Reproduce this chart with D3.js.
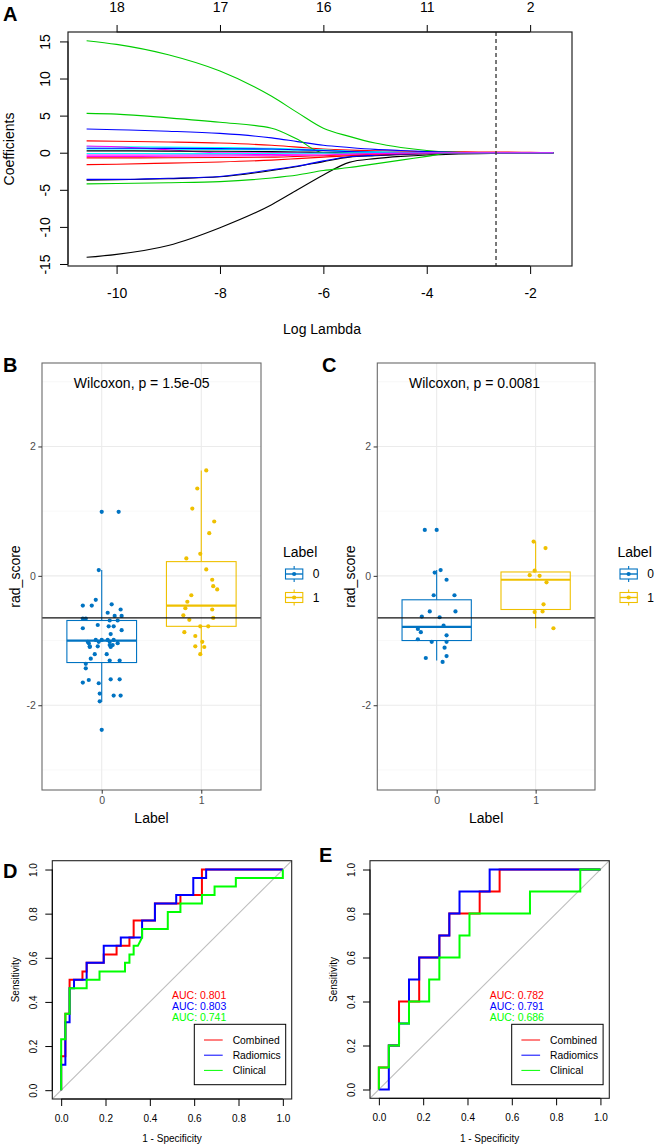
<!DOCTYPE html>
<html><head><meta charset="utf-8">
<script src="https://cdn.jsdelivr.net/npm/d3@7"></script>
<style>body{margin:0;background:#fff} svg text{font-family:"Liberation Sans",Arial,Helvetica,sans-serif}</style>
</head><body><svg id="c" width="656" height="1146"></svg>
<script>
// ===================== DATA =====================
// Panel A: LASSO coefficient paths
const lassoLogLambda = [-10.58, -10, -9, -8, -7, -6.5, -6, -5.5, -5, -4.5, -4, -3.5, -3, -2.5, -2, -1.55];
const lassoCoefs = [
  [-14.1,-13.7,-12.5,-10.1,-7.0,-5.0,-3.0,-1.3,-0.8,-0.5,-0.3,-0.2,-0.12,-0.07,-0.03,0],
  [1.6,1.55,1.45,1.3,1.0,0.75,0.5,0.35,0.25,0.2,0.15,0.12,0.1,0.08,0.05,0],
  [15.1,14.6,13.2,11.0,7.6,5.4,3.3,2.2,1.3,0.7,0.3,0.08,0,0,0,0],
  [3.2,3.1,2.9,2.6,2.0,1.5,1.0,0.7,0.45,0.3,0.15,0.05,0,0,0,0],
  [0.8,0.8,0.75,0.7,0.6,0.5,0.4,0.2,0.1,0.03,0,0,0,0,0,0],
  [-0.3,-0.3,-0.3,-0.28,-0.25,-0.2,-0.15,-0.1,-0.05,0,0,0,0,0,0,0],
  [-3.7,-3.65,-3.5,-3.25,-2.4,-1.85,-1.2,-0.6,-0.4,-0.25,-0.12,-0.05,0,0,0,0],
  [-1.6,-1.55,-1.4,-1.25,-1.0,-0.8,-0.6,-0.4,-0.3,-0.2,-0.1,-0.04,0,0,0,0],
  [5.3,5.2,4.7,4.1,3.3,1.8,0,0,0,0,0,0,0,0,0,0],
  [-3.6,-3.6,-3.45,-3.2,-2.3,-1.8,-1.1,-0.55,-0.35,-0.2,-0.1,-0.04,0,0,0,0],
  [0.5,0.5,0.48,0.45,0.4,0.35,0.3,0.2,0.12,0.06,0.02,0,0,0,0,0],
  [0.9,0.8,0.4,0,0,0,0,0,0,0,0,0,0,0,0,0],
  [0.25,0.25,0.22,0.2,0.15,0.1,0.06,0.02,0,0,0,0,0,0,0,0],
  [-0.7,-0.7,-0.68,-0.65,-0.6,-0.5,-0.4,-0.3,-0.2,-0.12,-0.06,-0.02,0,0,0,0],
  [-4.2,-4.15,-4.05,-3.9,-3.4,-3.0,-2.4,-2.0,-1.5,-1.0,-0.5,0,0,0,0,0],
  [0.6,0.6,0.58,0.55,0.5,0.4,0.3,0.15,0.05,0,0,0,0,0,0,0],
  [-0.1,-0.1,-0.12,-0.12,-0.1,-0.08,-0.05,-0.02,0,0,0,0,0,0,0,0],
  [-0.5,-0.5,-0.48,-0.45,-0.4,-0.35,-0.3,-0.2,-0.12,-0.06,-0.02,0,0,0,0,0]
];
const lassoXTicks = [-10, -8, -6, -4, -2];
const lassoTopLabels = ["18", "17", "16", "11", "2"];
const lassoYTicks = [-15, -10, -5, 0, 5, 10, 15];
const lassoLambdaMin = -2.66;

// Panels B / C: rad_score by Label
const groupLabels = ["0", "1"];
const bVal0 = [0.99,0.99,0.09,-0.37,-0.46,-0.46,-0.44,-0.52,-0.57,-0.62,-0.62,-0.66,-0.66,-0.69,-0.69,-0.76,-0.78,-0.78,-0.81,-0.84,-0.90,-0.99,-0.99,-0.99,-0.99,-1.04,-1.04,-1.09,-1.09,-1.02,-1.02,-1.02,-1.07,-1.07,-1.10,-1.10,-1.21,-1.21,-1.28,-1.31,-1.31,-1.36,-1.43,-1.61,-1.60,-1.60,-1.65,-1.66,-1.82,-1.85,-1.85,-1.94,-2.38];
const bJit0 = [0.00,0.17,-0.03,-0.06,-0.19,-0.10,0.10,0.19,0.06,0.13,0.20,-0.19,-0.16,0.08,0.16,-0.04,0.07,0.12,-0.19,0.20,0.09,-0.06,0.00,0.06,0.12,-0.13,0.16,-0.12,-0.04,-0.14,-0.03,0.08,0.08,0.11,-0.12,0.09,-0.07,0.05,-0.11,0.08,0.18,-0.16,-0.16,-0.13,0.09,0.18,-0.19,-0.03,-0.02,0.12,0.19,-0.02,0.00];
const bVal1 = [1.63,1.35,1.04,0.84,0.66,0.34,0.27,0.10,-0.06,-0.16,-0.21,-0.30,-0.40,-0.50,-0.52,-0.61,-0.65,-0.68,-0.78,-0.78,-0.87,-0.93,-1.02,-1.09,-1.10,-1.21];
const bJit1 = [0.05,-0.04,-0.09,0.13,0.08,-0.01,-0.15,0.05,0.11,0.12,0.16,-0.10,-0.14,-0.16,0.11,-0.18,0.12,-0.12,-0.01,0.07,-0.17,-0.06,0.01,-0.06,0.03,-0.01];
// box stats: [lower whisker, Q1, median, Q3, upper whisker]
const bBox0 = [-1.95, -1.34, -1.00, -0.69, 0.09];
const bBox1 = [-1.21, -0.78, -0.46, 0.22, 1.63];
const bPText = "Wilcoxon, p = 1.5e-05";

const cVal0 = [0.71,0.71,0.05,0.09,-0.06,-0.30,-0.30,-0.55,-0.55,-0.63,-0.64,-0.77,-0.82,-0.87,-0.92,-0.98,-1.02,-1.02,-1.11,-1.27,-1.24,-1.33];
const cJit0 = [-0.12,0.00,-0.02,0.04,0.10,-0.03,0.18,-0.07,0.19,-0.15,0.03,0.07,-0.19,-0.16,0.10,-0.19,-0.05,0.10,0.08,-0.11,0.10,0.06];
const cVal1 = [0.53,0.43,0.08,0.01,0.00,-0.10,-0.44,-0.56,-0.55,-0.81];
const cJit1 = [-0.02,0.10,-0.01,-0.06,0.04,0.11,0.08,-0.01,0.07,0.18];
const cBox0 = [-1.31, -1.00, -0.79, -0.37, 0.09];
const cBox1 = [-0.81, -0.52, -0.06, 0.06, 0.53];
const cPText = "Wilcoxon, p = 0.0081";
const cutoffScore = -0.65;
const scoreTicks = [-2, 0, 2];

// Panels D / E: ROC curves, [1 - specificity, sensitivity]
const rocNames = ["Combined", "Radiomics", "Clinical"];
const dCombined = [[0,0],[0,0.154],[0.019,0.154],[0.019,0.346],[0.038,0.346],[0.038,0.5],[0.096,0.5],[0.096,0.538],[0.115,0.538],[0.115,0.577],[0.192,0.577],[0.192,0.615],[0.25,0.615],[0.25,0.654],[0.308,0.654],[0.308,0.692],[0.327,0.692],[0.327,0.769],[0.423,0.769],[0.423,0.846],[0.538,0.846],[0.538,0.885],[0.635,0.885],[0.635,1],[1,1]];
const dRadiomics = [[0,0],[0,0.115],[0.019,0.115],[0.019,0.308],[0.038,0.308],[0.038,0.462],[0.058,0.462],[0.058,0.5],[0.115,0.5],[0.115,0.577],[0.192,0.577],[0.192,0.654],[0.269,0.654],[0.269,0.692],[0.365,0.692],[0.365,0.769],[0.423,0.769],[0.423,0.846],[0.519,0.846],[0.519,0.885],[0.596,0.885],[0.596,0.962],[0.654,0.962],[0.654,1],[1,1]];
const dClinical = [[0,0],[0,0.231],[0.019,0.231],[0.019,0.346],[0.038,0.346],[0.038,0.462],[0.115,0.462],[0.115,0.5],[0.173,0.5],[0.173,0.538],[0.288,0.538],[0.288,0.577],[0.308,0.577],[0.308,0.615],[0.327,0.615],[0.327,0.654],[0.346,0.654],[0.365,0.692],[0.365,0.731],[0.481,0.731],[0.481,0.808],[0.538,0.808],[0.538,0.846],[0.635,0.846],[0.635,0.885],[0.692,0.885],[0.692,0.923],[0.788,0.923],[0.788,0.962],[1,0.962],[1,1]];
const dAUC = ["0.801", "0.803", "0.741"];
const eCombined = [[0,0],[0,0.1],[0.045,0.1],[0.045,0.2],[0.091,0.2],[0.091,0.4],[0.182,0.4],[0.182,0.6],[0.273,0.6],[0.273,0.7],[0.318,0.7],[0.318,0.8],[0.455,0.8],[0.455,0.9],[0.545,0.9],[0.545,1],[1,1]];
const eRadiomics = [[0,0],[0.045,0],[0.045,0.2],[0.091,0.2],[0.091,0.3],[0.136,0.3],[0.136,0.5],[0.182,0.5],[0.182,0.6],[0.273,0.6],[0.273,0.7],[0.318,0.7],[0.318,0.8],[0.364,0.8],[0.364,0.9],[0.5,0.9],[0.5,1],[1,1]];
const eClinical = [[0,0],[0,0.1],[0.045,0.1],[0.045,0.2],[0.091,0.2],[0.091,0.3],[0.136,0.3],[0.136,0.4],[0.227,0.4],[0.227,0.5],[0.273,0.5],[0.273,0.6],[0.364,0.6],[0.364,0.7],[0.409,0.7],[0.409,0.8],[0.682,0.8],[0.682,0.9],[0.909,0.9],[0.909,1],[1,1]];
const eAUC = ["0.782", "0.791", "0.686"];
const rocTicks = [0, 0.2, 0.4, 0.6, 0.8, 1.0];

// ===================== STYLE =====================
const rPalette = ["#000000", "#FF0000", "#00CD00", "#0000FF", "#00FFFF", "#FF00FF"];
const jco = ["#0073C2", "#EFC000"];
const rocColors = ["#FF0000", "#0000FF", "#00FF00"];
const FONT = '"Liberation Sans",Arial,Helvetica,sans-serif';

const svg = d3.select("#c");
svg.append("rect").attr("width", 656).attr("height", 1146).attr("fill", "#fff");
const defs = svg.append("defs");

function styleAxis(g, fs, color) {
  g.attr("font-family", FONT).attr("font-size", fs);
  g.selectAll("text").attr("fill", color || "#000");
  g.selectAll("line").attr("stroke", color === "#4D4D4D" ? "#333" : "#000");
}
function panelLabel(t, x, y) {
  svg.append("text").attr("x", x).attr("y", y).attr("font-size", 20).attr("font-weight", "bold").attr("fill", "#000").text(t);
}

// ===================== PANEL A =====================
(function () {
  const L = 68, R = 572, T = 32, B = 266;
  const x = d3.scaleLinear().domain([-10.94, -1.19]).range([L, R]);
  const y = d3.scaleLinear().domain([-15.27, 16.27]).range([B, T]);
  const g = svg.append("g");
  defs.append("clipPath").attr("id", "clipA").append("rect").attr("x", L).attr("y", T).attr("width", R - L).attr("height", B - T);

  const line = d3.line().x((d, i) => x(lassoLogLambda[i])).y(d => y(d)).curve(d3.curveMonotoneX);
  const lg = g.append("g").attr("clip-path", "url(#clipA)");
  lassoCoefs.forEach((c, i) => {
    lg.append("path").attr("d", line(c)).attr("fill", "none").attr("stroke", rPalette[i % 6]).attr("stroke-width", 1.1);
  });
  g.append("line").attr("x1", x(lassoLambdaMin)).attr("x2", x(lassoLambdaMin)).attr("y1", T).attr("y2", B)
    .attr("stroke", "#333").attr("stroke-width", 1.3).attr("stroke-dasharray", "4,3");

  const ax = g.append("g").attr("transform", `translate(0,${B})`)
    .call(d3.axisBottom(x).tickValues(lassoXTicks).tickSize(8).tickSizeOuter(0).tickPadding(14).tickFormat(d => String(d)));
  styleAxis(ax, 14);
  const at = g.append("g").attr("transform", `translate(0,${T})`)
    .call(d3.axisTop(x).tickValues(lassoXTicks).tickSize(7).tickSizeOuter(0).tickPadding(13).tickFormat((d, i) => lassoTopLabels[i]));
  styleAxis(at, 14);
  const ay = g.append("g").attr("transform", `translate(${L},0)`)
    .call(d3.axisLeft(y).tickValues(lassoYTicks).tickSize(8).tickSizeOuter(0).tickFormat(d => String(d)));
  styleAxis(ay, 14);
  ay.selectAll(".tick text").attr("x", null).attr("dy", null).attr("text-anchor", "middle").attr("transform", "translate(-18,0) rotate(-90)");
  ay.select(".domain").attr("d", `M0,${y(-15)}V${y(15)}`);
  ax.select(".domain").attr("d", `M${x(-10)},0H${x(-2)}`);
  at.select(".domain").attr("d", `M${x(-10)},0H${x(-2)}`);
  g.append("rect").attr("x", L).attr("y", T).attr("width", R - L).attr("height", B - T).attr("fill", "none").attr("stroke", "#222").attr("stroke-width", 1.2);

  g.append("text").attr("x", (L + R) / 2 + 2).attr("y", 334).attr("text-anchor", "middle").attr("font-size", 14).text("Log Lambda");
  g.append("text").attr("transform", `translate(14,${(T + B) / 2}) rotate(-90)`).attr("text-anchor", "middle").attr("font-size", 14).text("Coefficients");
  panelLabel("A", 3, 21);
})();

// ===================== PANELS B / C =====================
function boxPanel(o) {
  const T = 363, B = 790;
  const x = d3.scaleLinear().domain([-0.6, 1.6]).range([o.L, o.R]);
  const y = d3.scaleLinear().domain([-3.31, 3.29]).range([B, T]);
  const g = svg.append("g");
  // grid
  [-3, -1, 1, 3].forEach(v => g.append("line").attr("x1", o.L).attr("x2", o.R).attr("y1", y(v)).attr("y2", y(v)).attr("stroke", "#F4F4F4").attr("stroke-width", 0.6));
  scoreTicks.forEach(v => g.append("line").attr("x1", o.L).attr("x2", o.R).attr("y1", y(v)).attr("y2", y(v)).attr("stroke", "#EBEBEB").attr("stroke-width", 1.1));
  [0, 1].forEach(v => g.append("line").attr("x1", x(v)).attr("x2", x(v)).attr("y1", T).attr("y2", B).attr("stroke", "#EBEBEB").attr("stroke-width", 1.1));

  const groups = [[o.v0, o.j0, o.b0], [o.v1, o.j1, o.b1]];
  groups.forEach(([vals, jit, bx], gi) => {
    const col = jco[gi], cx = x(gi);
    g.append("line").attr("x1", cx).attr("x2", cx).attr("y1", y(bx[4])).attr("y2", y(bx[3])).attr("stroke", col).attr("stroke-width", 1.1);
    g.append("line").attr("x1", cx).attr("x2", cx).attr("y1", y(bx[1])).attr("y2", y(bx[0])).attr("stroke", col).attr("stroke-width", 1.1);
    g.append("rect").attr("x", x(gi - 0.35)).attr("width", x(gi + 0.35) - x(gi - 0.35)).attr("y", y(bx[3])).attr("height", y(bx[1]) - y(bx[3]))
      .attr("fill", "none").attr("stroke", col).attr("stroke-width", 1.1);
    g.append("line").attr("x1", x(gi - 0.35)).attr("x2", x(gi + 0.35)).attr("y1", y(bx[2])).attr("y2", y(bx[2])).attr("stroke", col).attr("stroke-width", 2.2);
  });
  groups.forEach(([vals, jit], gi) => {
    g.selectAll(null).data(vals).enter().append("circle")
      .attr("cx", (d, i) => x(gi + jit[i])).attr("cy", d => y(d)).attr("r", 2.1).attr("fill", jco[gi]);
  });
  g.append("line").attr("x1", o.L).attr("x2", o.R).attr("y1", y(cutoffScore)).attr("y2", y(cutoffScore)).attr("stroke", "#111").attr("stroke-width", 1.1);
  g.append("text").attr("x", x(-0.28)).attr("y", y(2.9)).attr("font-size", 14).attr("fill", "#000").text(o.ptext);
  g.append("rect").attr("x", o.L).attr("y", T).attr("width", o.R - o.L).attr("height", B - T).attr("fill", "none").attr("stroke", "#6a6a6a").attr("stroke-width", 1.1);

  const ay = g.append("g").attr("transform", `translate(${o.L},0)`)
    .call(d3.axisLeft(y).tickValues(scoreTicks).tickSize(3.7).tickSizeOuter(0).tickPadding(2.5).tickFormat(d => String(d)));
  ay.select(".domain").remove();
  styleAxis(ay, 10.5, "#4D4D4D");
  const ax = g.append("g").attr("transform", `translate(0,${B})`)
    .call(d3.axisBottom(x).tickValues([0, 1]).tickSize(3.7).tickSizeOuter(0).tickPadding(3).tickFormat((d, i) => groupLabels[i]));
  ax.select(".domain").remove();
  styleAxis(ax, 10.5, "#4D4D4D");

  g.append("text").attr("x", (o.L + o.R) / 2).attr("y", 823).attr("text-anchor", "middle").attr("font-size", 14).text("Label");
  g.append("text").attr("transform", `translate(${o.L - 22},${(T + B) / 2}) rotate(-90)`).attr("text-anchor", "middle").attr("font-size", 14).text("rad_score");

  // legend
  g.append("text").attr("x", o.lx).attr("y", 556.5).attr("font-size", 14).text("Label");
  [574, 597.5].forEach((ky, i) => {
    const kx = o.lx + 2.5, kw = 17.3, kc = kx + kw / 2, col = jco[i];
    g.append("line").attr("x1", kc).attr("x2", kc).attr("y1", ky - 8).attr("y2", ky + 8).attr("stroke", col).attr("stroke-width", 1.1);
    g.append("rect").attr("x", kx).attr("y", ky - 5).attr("width", kw).attr("height", 10).attr("fill", "#fff").attr("stroke", col).attr("stroke-width", 1.1);
    g.append("line").attr("x1", kx).attr("x2", kx + kw).attr("y1", ky).attr("y2", ky).attr("stroke", col).attr("stroke-width", 1.4);
    g.append("circle").attr("cx", kc).attr("cy", ky).attr("r", 2.1).attr("fill", col);
    g.append("text").attr("x", kx + kw + 10).attr("y", ky + 4.3).attr("font-size", 12).text(groupLabels[i]);
  });
  panelLabel(o.label, o.labx, 372);
}
boxPanel({ L: 42, R: 261, v0: bVal0, j0: bJit0, v1: bVal1, j1: bJit1, b0: bBox0, b1: bBox1, ptext: bPText, lx: 283, label: "B", labx: 3 });
boxPanel({ L: 377.3, R: 595, v0: cVal0, j0: cJit0, v1: cVal1, j1: cJit1, b0: cBox0, b1: cBox1, ptext: cPText, lx: 617.5, label: "C", labx: 322 });

// ===================== PANELS D / E =====================
function rocPanel(o) {
  const T = 860.7, B = o.B;
  const x = d3.scaleLinear().domain([-0.04, 1.04]).range([o.L, o.R]);
  const y = d3.scaleLinear().domain([-0.04, 1.04]).range([B, T]);
  const g = svg.append("g");
  const cid = "clip" + o.label;
  defs.append("clipPath").attr("id", cid).append("rect").attr("x", o.L).attr("y", T).attr("width", o.R - o.L).attr("height", B - T);
  g.append("line").attr("clip-path", `url(#${cid})`).attr("x1", x(-0.1)).attr("y1", y(-0.1)).attr("x2", x(1.1)).attr("y2", y(1.1))
    .attr("stroke", "#BEBEBE").attr("stroke-width", 1.1);
  const line = d3.line().x(d => x(d[0])).y(d => y(d[1]));
  o.curves.forEach((c, i) => {
    g.append("path").attr("d", line(c)).attr("fill", "none").attr("stroke", rocColors[i]).attr("stroke-width", 2);
  });
  o.auc.forEach((a, i) => {
    g.append("text").attr("x", x(0.5)).attr("y", [0.43, 0.38, 0.33].map(y)[i] + 3.8).attr("font-size", 10.5).attr("fill", rocColors[i]).text("AUC: " + a);
  });
  // legend
  const lg = g.append("g");
  lg.append("rect").attr("x", o.lgx).attr("y", 1024.3).attr("width", 91.4).attr("height", 60.4).attr("fill", "#fff").attr("stroke", "#000").attr("stroke-width", 1);
  rocNames.forEach((n, i) => {
    const ly = 1040 + i * 15.2;
    lg.append("line").attr("x1", o.lgx + 9.7).attr("x2", o.lgx + 28.4).attr("y1", ly).attr("y2", ly).attr("stroke", rocColors[i]).attr("stroke-width", 1);
    lg.append("text").attr("x", o.lgx + 38.4).attr("y", ly + 3.7).attr("font-size", 10.3).text(n);
  });
  g.append("rect").attr("x", o.L).attr("y", T).attr("width", o.R - o.L).attr("height", B - T).attr("fill", "none").attr("stroke", "#222").attr("stroke-width", 1.1);

  const ax = g.append("g").attr("transform", `translate(0,${B})`)
    .call(d3.axisBottom(x).tickValues(rocTicks).tickSize(7).tickSizeOuter(0).tickPadding(9).tickFormat(d3.format(".1f")));
  styleAxis(ax, 10);
  ax.select(".domain").attr("d", `M${x(0)},0H${x(1)}`);
  const ay = g.append("g").attr("transform", `translate(${o.L},0)`)
    .call(d3.axisLeft(y).tickValues(rocTicks).tickSize(7).tickSizeOuter(0).tickFormat(d3.format(".1f")));
  styleAxis(ay, 10);
  ay.select(".domain").attr("d", `M0,${y(0)}V${y(1)}`);
  ay.selectAll(".tick text").attr("x", null).attr("dy", null).attr("text-anchor", "middle").attr("transform", "translate(-15.5,0) rotate(-90)");

  g.append("text").attr("x", (o.L + o.R) / 2).attr("y", 1142).attr("text-anchor", "middle").attr("font-size", 10).text("1 - Specificity");
  g.append("text").attr("transform", `translate(${o.L - 33.5},${(T + B) / 2}) rotate(-90)`).attr("text-anchor", "middle").attr("font-size", 10).text("Sensitivity");
  panelLabel(o.label, o.labx, o.laby);
}
rocPanel({ L: 52.3, R: 291.7, B: 1099, curves: [dCombined, dRadiomics, dClinical], auc: dAUC, lgx: 194.3, label: "D", labx: 3, laby: 878 });
rocPanel({ L: 370, R: 609.3, B: 1098.3, curves: [eCombined, eRadiomics, eClinical], auc: eAUC, lgx: 511.7, label: "E", labx: 319, laby: 862 });
</script></body></html>
